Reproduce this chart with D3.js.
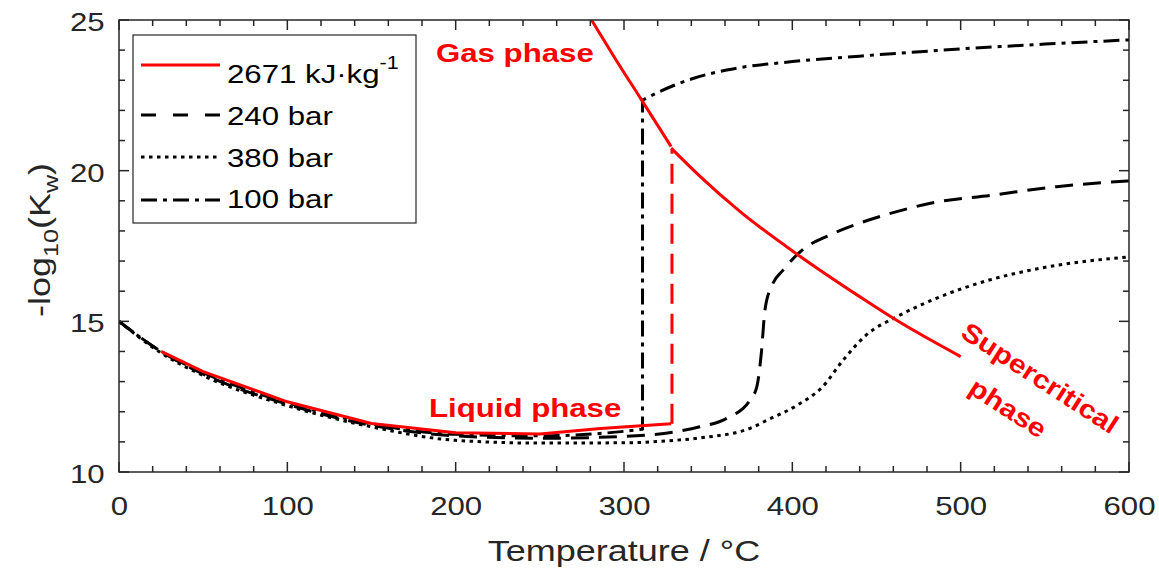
<!DOCTYPE html>
<html><head><meta charset="utf-8">
<script src="https://cdn.jsdelivr.net/npm/d3@7"></script>
<style>
body{margin:0;background:#fff;}
svg{display:block;font-family:"Liberation Sans",Arial,sans-serif;}
</style></head>
<body>
<svg id="chart" width="1159" height="572"></svg>
<script>
// ---- data (Temperature °C, -log10(Kw)) ----
const redLiquidT = [25, 50, 100, 150, 200, 250, 286, 328];
const redLiquidV = [14.0, 13.33, 12.33, 11.61, 11.3, 11.26, 11.44, 11.6];
const redJumpT = [328.5, 328.5];
const redJumpV = [11.6, 20.7];
const redGasUpT = [280.7, 295, 310.5, 328];
const redGasUpV = [25.0, 23.7, 22.34, 20.8];
const redGasLowT = [328, 345, 369, 403, 440, 460, 500];
const redGasLowV = [20.75, 19.82, 18.64, 17.22, 15.82, 15.1, 13.83];

const bar240T = [0, 25, 50, 100, 150, 200, 250, 300, 331, 345, 361, 375, 379, 381.5, 383.8, 388, 394.5, 406, 422, 440, 462, 482, 519, 557, 600];
const bar240V = [15.0, 14.0, 13.25, 12.25, 11.55, 11.2, 11.12, 11.18, 11.34, 11.5, 11.78, 12.39, 12.85, 13.9, 15.4, 16.2, 16.7, 17.37, 17.86, 18.26, 18.64, 18.92, 19.19, 19.47, 19.66];

const bar380T = [0, 25, 50, 100, 150, 200, 250, 300, 330, 345, 375, 385, 403, 418, 430, 444, 462, 488, 517, 547, 600];
const bar380V = [15.0, 13.95, 13.2, 12.2, 11.5, 11.05, 10.96, 10.97, 11.05, 11.13, 11.45, 11.72, 12.22, 12.83, 13.7, 14.55, 15.15, 15.82, 16.37, 16.76, 17.14];

const bar100LiqT = [0, 25, 50, 100, 150, 200, 250, 300, 311];
const bar100LiqV = [15.0, 14.0, 13.3, 12.3, 11.6, 11.25, 11.2, 11.35, 11.42];
const bar100GasT = [311, 321, 341, 361, 400, 440, 500, 550, 600];
const bar100GasV = [22.34, 22.62, 23.06, 23.34, 23.62, 23.8, 24.04, 24.2, 24.34];

const xTicks = [0, 100, 200, 300, 400, 500, 600];
const yTicks = [10, 15, 20, 25];
const legendLabels = ["2671 kJ\u00B7kg", "240 bar", "380 bar", "100 bar"];

// ---- layout ----
const SX = 1.2; // horizontal glyph stretch seen in the reference typography
const svg = d3.select("#chart");
const L = 119, R = 1129, T = 20, B = 472;
const x = d3.scaleLinear().domain([0, 600]).range([L, R]);
const y = d3.scaleLinear().domain([10, 25]).range([B, T]);
const axisColor = "#262626";

const zip = (a, b) => a.map((d, i) => [d, b[i]]);
const lin = d3.line().x(d => x(d[0])).y(d => y(d[1]));
const smooth = d3.line().x(d => x(d[0])).y(d => y(d[1])).curve(d3.curveMonotoneX);

svg.append("defs").append("clipPath").attr("id", "clip")
  .append("rect").attr("x", L).attr("y", T).attr("width", R - L).attr("height", B - T);
const g = svg.append("g").attr("clip-path", "url(#clip)");

const DASH = "18,10", DOT = "3.5,4.5", DASHDOT = "16,6,4,6";

function draw(d, color, dash) {
  g.append("path").attr("d", d).attr("fill", "none")
    .attr("stroke", color).attr("stroke-width", 3)
    .attr("stroke-dasharray", dash).attr("stroke-linejoin", "round");
}
draw(smooth(zip(bar380T, bar380V)), "#000", DOT);
draw(smooth(zip(bar240T, bar240V)), "#000", DASH);
// 100 bar: liquid branch, vertical jump, gas branch as one continuous path
const p100 = smooth(zip(bar100LiqT, bar100LiqV)) + smooth(zip(bar100GasT, bar100GasV)).replace(/^M/, "L");
draw(p100, "#000", DASHDOT);
draw(lin(zip(redLiquidT, redLiquidV)), "#ff0000", null);
draw(smooth(zip(redGasUpT, redGasUpV)), "#ff0000", null);
draw(smooth(zip(redGasLowT, redGasLowV)), "#ff0000", null);
draw(lin(zip(redJumpT, redJumpV)), "#ff0000", "20,10");

// axes
const gx = svg.append("g").attr("transform", `translate(0,${B})`)
  .call(d3.axisBottom(x).tickValues(xTicks).tickSize(0).tickPadding(25));
const gy = svg.append("g").attr("transform", `translate(${L},0)`)
  .call(d3.axisLeft(y).tickValues(yTicks).tickSize(0).tickPadding(12));
[gx, gy].forEach(a => {
  a.select(".domain").remove();
  a.selectAll("text").attr("font-size", 26).attr("fill", axisColor)
    .attr("font-family", "'Liberation Sans',Arial,sans-serif")
    .attr("transform", `scale(${SX},1)`);
});
gy.selectAll("text").attr("dy", "0.4em");

svg.append("rect").attr("x", L).attr("y", T).attr("width", R - L).attr("height", B - T)
  .attr("fill", "none").attr("stroke", axisColor).attr("stroke-width", 1.5);

const tg = svg.append("g").attr("stroke", axisColor).attr("stroke-width", 1.5);
d3.range(0, 601, 20).forEach(v => {
  const len = v % 100 === 0 ? 10 : 6;
  tg.append("line").attr("x1", x(v)).attr("x2", x(v)).attr("y1", B).attr("y2", B - len);
  tg.append("line").attr("x1", x(v)).attr("x2", x(v)).attr("y1", T).attr("y2", T + len);
});
d3.range(10, 25.01, 1).forEach(v => {
  const len = v % 5 === 0 ? 10 : 6;
  tg.append("line").attr("y1", y(v)).attr("y2", y(v)).attr("x1", L).attr("x2", L + len);
  tg.append("line").attr("y1", y(v)).attr("y2", y(v)).attr("x1", R).attr("x2", R - len);
});

// axis labels
svg.append("text").attr("transform", `translate(${(L + R) / 2},561) scale(${SX},1)`)
  .attr("text-anchor", "middle").attr("font-size", 30).attr("fill", axisColor)
  .text("Temperature / \u00B0C");
const yl = svg.append("text").attr("transform", `translate(50,240) rotate(-90) scale(${SX},1)`)
  .attr("text-anchor", "middle").attr("font-size", 30).attr("fill", axisColor);
yl.append("tspan").text("-log");
yl.append("tspan").attr("font-size", 21).attr("dy", 8).text("10");
yl.append("tspan").attr("dy", -8).text("(K");
yl.append("tspan").attr("font-size", 21).attr("dy", 8).text("w");
yl.append("tspan").attr("dy", -8).text(")");

// legend
const lg = svg.append("g");
lg.append("rect").attr("x", 133).attr("y", 35).attr("width", 283).attr("height", 188)
  .attr("fill", "#fff").attr("stroke", axisColor).attr("stroke-width", 1.2);
const legStyles = [
  {color: "#ff0000", dash: null, ly: 65, ty: 83},
  {color: "#000", dash: "15,17", ly: 115, ty: 125},
  {color: "#000", dash: DOT, ly: 157, ty: 167},
  {color: "#000", dash: "16,6,4,6", ly: 200, ty: 208},
];
legendLabels.forEach((lab, i) => {
  const s = legStyles[i];
  lg.append("line").attr("x1", 141).attr("x2", 220).attr("y1", s.ly).attr("y2", s.ly)
    .attr("stroke", s.color).attr("stroke-width", 3).attr("stroke-dasharray", s.dash);
  const t = lg.append("text").attr("transform", `translate(227,${s.ty}) scale(${SX},1)`)
    .attr("font-size", 26).attr("fill", "#000");
  t.append("tspan").text(lab);
  if (i === 0) t.append("tspan").attr("font-size", 18).attr("dy", -14).text("-1");
});

// annotations
const ann = svg.append("g").attr("fill", "#ff0000").attr("font-weight", "bold").attr("font-size", 26);
ann.append("text").attr("transform", `translate(436,62) scale(${SX},1)`).text("Gas phase");
ann.append("text").attr("transform", `translate(429,417) scale(${SX},1)`).text("Liquid phase");
ann.append("text").attr("transform", "translate(1040,378) rotate(33) scale(1.15,1)")
  .attr("text-anchor", "middle").attr("dy", 9).text("Supercritical");
ann.append("text").attr("transform", "translate(1008,408) rotate(33) scale(1.15,1)")
  .attr("text-anchor", "middle").attr("dy", 9).text("phase");
</script>
</body></html>
